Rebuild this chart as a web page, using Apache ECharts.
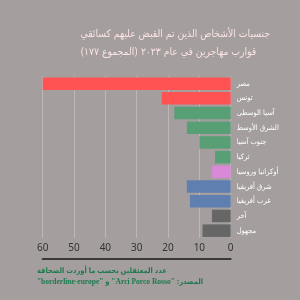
<!DOCTYPE html>
<html><head><meta charset="utf-8">
<script src="https://cdn.jsdelivr.net/npm/echarts@6/dist/echarts.min.js"></script>
<style>html,body{margin:0;padding:0;background:#a49e9e}#c{width:300px;height:300px}</style>
</head><body><div id="c" dir="rtl"></div>
<script>
const categories = ["مصر","تونس","آسيا الوسطى","الشرق الأوسط","جنوب آسيا","تركيا","أوكرانيا وروسيا","شرق أفريقيا","غرب أفريقيا","آخر","مجهول"];
const values = [60, 22, 18, 14, 10, 5, 6, 14, 13, 6, 9];
const colors = ["#ff5252","#ff5252","#589f76","#589f76","#589f76","#589f76","#d88ad8","#5e7fb0","#5e7fb0","#666666","#666666"];
const tickLabels = ["0","10","20","30","40","50","60"];
const titleLines = ["جنسيات الأشخاص الذين تم القبض عليهم كسائقي","قوارب مهاجرين في عام ٢٠٢٣ (المجموع ١٧٧)"];
const footLines = ["عدد المعتقلين بحسب ما أوردت الصحافة","المصدر: \"Arci Porco Rosso\" و \"borderline-europe\""];

const chart = echarts.init(document.getElementById('c'));
chart.setOption({
  backgroundColor: '#a49e9e',
  animation: false,
  title: [
    {text: titleLines.join('\n'), right: 30, top: 25, padding: 0,
     textStyle: {color: '#fbe3e3', fontSize: 10.3, fontWeight: 'normal', fontFamily: 'DejaVu Sans Condensed', lineHeight: 18, align: 'right'}},
    {text: footLines.join('\n'), right: 97, top: 266, padding: 0,
     textStyle: {color: '#1d7a4e', fontSize: 7.5, fontWeight: 'bold', fontFamily: 'Liberation Serif, DejaVu Sans Condensed', lineHeight: 11, align: 'right'}}
  ],
  grid: {left: 42.7, right: 69.3, top: 76.3, bottom: 62},
  xAxis: [{
    type: 'value', inverse: true, min: 0, max: 60, interval: 10,
    axisLine: {show: false}, axisTick: {show: false},
    splitLine: {lineStyle: {color: '#bdb8b8', width: 1}},
    axisLabel: {color: '#333', fontSize: 10, fontFamily: 'Noto Sans', margin: 5,
      formatter: v => tickLabels[v / 10]}
  }, {
    type: 'value', inverse: true, min: 0, max: 60, position: 'bottom', offset: 21,
    axisLine: {show: true, lineStyle: {color: '#3a3a3a', width: 2}},
    axisTick: {show: false}, axisLabel: {show: false}, splitLine: {show: false}
  }],
  yAxis: {
    type: 'category', data: categories, inverse: true, position: 'right',
    axisLine: {show: false}, axisTick: {show: false},
    axisLabel: {color: '#ffffff', fontSize: 7.5, fontFamily: 'DejaVu Sans Condensed', margin: 6}
  },
  series: [{
    type: 'bar', barCategoryGap: '15%',
    data: values.map((v, i) => ({value: v, itemStyle: {color: colors[i]}}))
  }]
});
</script></body></html>
